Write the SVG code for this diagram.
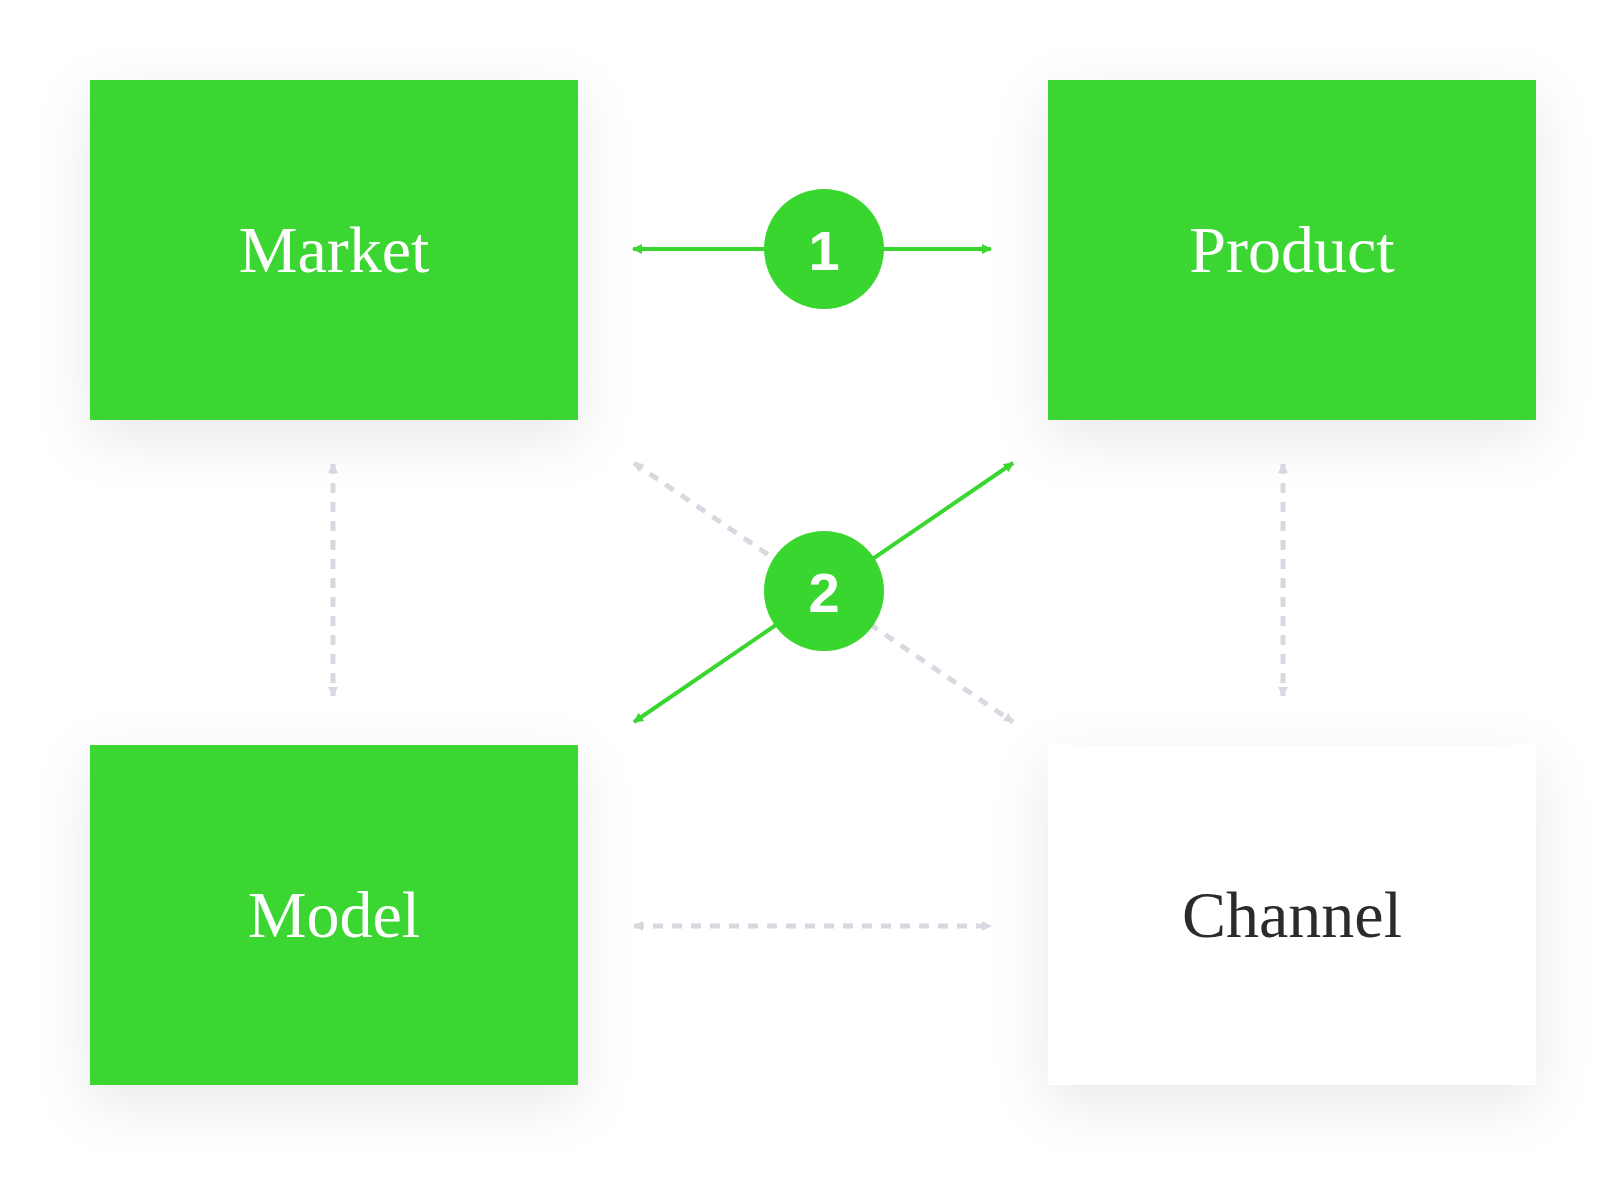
<svg xmlns="http://www.w3.org/2000/svg" width="1617" height="1187" viewBox="0 0 1617 1187">
<defs>
<filter id="sh" x="-30%" y="-30%" width="160%" height="170%"><feDropShadow dx="0" dy="18" stdDeviation="28" flood-color="#000" flood-opacity="0.09"/></filter>
<marker id="ag" viewBox="0 0 10 10" refX="9" refY="5" markerWidth="10" markerHeight="10" markerUnits="userSpaceOnUse" orient="auto-start-reverse"><path d="M0 0L10 5L0 10z" fill="#3ad630"/></marker>
<marker id="ad" viewBox="0 0 10 10" refX="9" refY="5" markerWidth="10" markerHeight="10" markerUnits="userSpaceOnUse" orient="auto-start-reverse"><path d="M0 0L10 5L0 10z" fill="#d8d9e0"/></marker>
</defs>
<style>
.g{fill:#3ad630}.w{fill:#fff}
.t{font-family:"Liberation Serif","DejaVu Serif",serif;font-size:66px;text-anchor:middle}
.sol{stroke:#3ad630;stroke-width:4;fill:none}
.das{stroke:#d8d9e0;stroke-width:5;stroke-dasharray:10 9;fill:none}
.n{font-family:"Liberation Sans",Arial,sans-serif;font-weight:bold;font-size:56px;fill:#fff;text-anchor:middle}
</style>
<rect width="1617" height="1187" fill="#fff"/>
<g id="market"><rect x="90" y="80" width="488" height="340" class="g" filter="url(#sh)"/><text x="334" y="272" class="t" fill="#fff">Market</text></g>
<g id="product"><rect x="1048" y="80" width="488" height="340" class="g" filter="url(#sh)"/><text x="1292" y="272" class="t" fill="#fff">Product</text></g>
<g id="model"><rect x="90" y="745" width="488" height="340" class="g" filter="url(#sh)"/><text x="334" y="937" class="t" fill="#fff">Model</text></g>
<g id="channel"><rect x="1048" y="745" width="488" height="340" class="w" filter="url(#sh)"/><text x="1292" y="937" class="t" fill="#2b2b2b">Channel</text></g>
<g id="connectors">
<path d="M633 249H991" class="sol" marker-start="url(#ag)" marker-end="url(#ag)" stroke-width="5"/>
<path d="M333 464V696" class="das" marker-start="url(#ad)" marker-end="url(#ad)"/>
<path d="M1283 464V696" class="das" marker-start="url(#ad)" marker-end="url(#ad)"/>
<path d="M634 926H991" class="das" marker-start="url(#ad)" marker-end="url(#ad)"/>
<path d="M634 463L1013 722" class="das" marker-start="url(#ad)" marker-end="url(#ad)"/>
<path d="M634 722L1013 463" class="sol" marker-start="url(#ag)" marker-end="url(#ag)"/>
<marker id="unused"/>
</g>
<g id="badge1"><circle cx="824" cy="249" r="60" class="g"/><text x="824" y="270" class="n">1</text></g>
<g id="badge2"><circle cx="824" cy="591" r="60" class="g"/><text x="824" y="612" class="n">2</text></g>
</svg>
